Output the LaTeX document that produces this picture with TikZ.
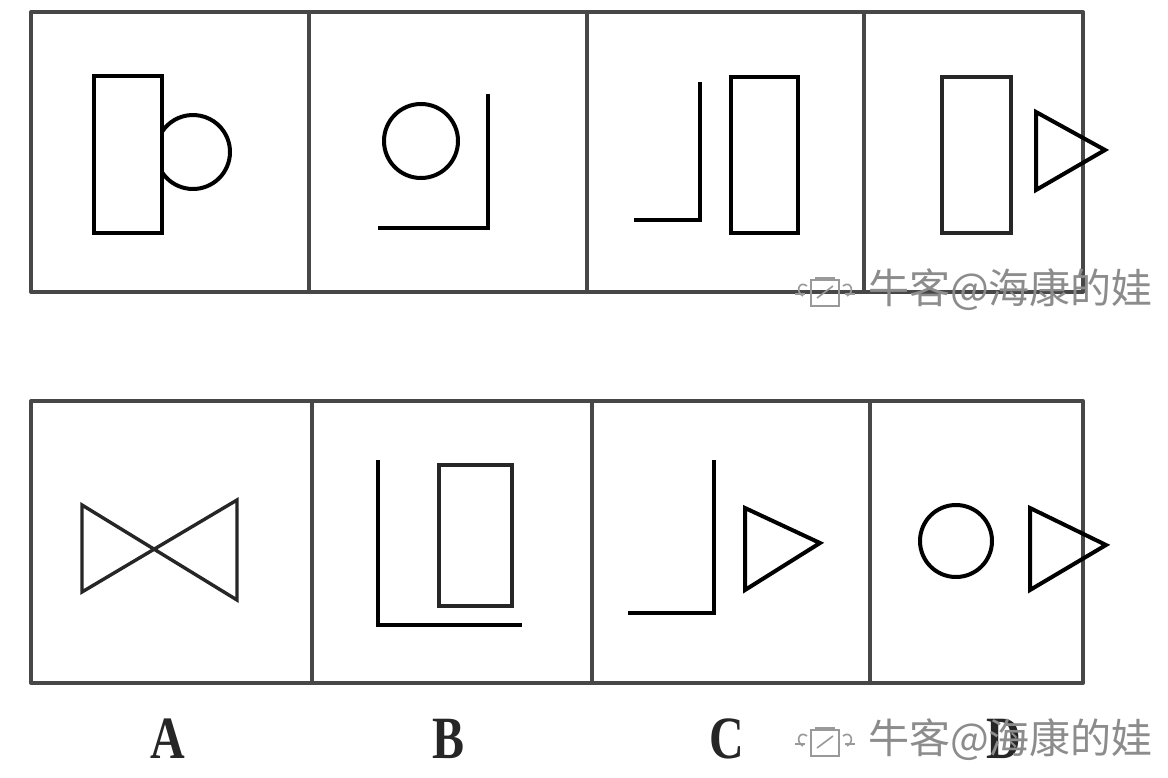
\documentclass[tikz,border=0pt]{standalone}
\usepackage{fontspec}
\setmainfont{Liberation Serif}
\newfontfamily\cjkwm{Noto Sans CJK SC}
\begin{document}
\begin{tikzpicture}[x=1pt,y=-1pt,
  frame/.style={draw=black!72, line width=4pt, line cap=round, line join=round},
  fig/.style={draw=black, line width=4pt, line join=miter},
  figthin/.style={draw=black!85, line width=3.4pt, line join=miter},
  lbl/.style={font=\bfseries\fontsize{60}{60}\selectfont, text=black!85, inner sep=0pt, xscale=0.8},
  wm/.style={font=\cjkwm\fontsize{41}{41}\selectfont, text=black!45, inner sep=0pt, anchor=west}]
\useasboundingbox[fill=white] (0,0) rectangle (1168,778);
% ---------------- top row frame
\draw[frame] (31,12) rectangle (1083,292);
\draw[frame] (309,12) -- (309,292);
\draw[frame] (587,12) -- (587,292);
\draw[frame] (864,12) -- (864,292);
% panel 1: rectangle + circle
\draw[fig] (94,76) rectangle (162,233);
\draw[fig] (193,152) ++(146.9:37) arc[start angle=146.9, end angle=-146.9, radius=37];
% panel 2: circle + L
\draw[fig] (421,141) circle[radius=37];
\draw[fig] (488,94) -- (488,228) -- (378,228);
% panel 3: L + rectangle
\draw[fig] (700,82) -- (700,220) -- (634,220);
\draw[fig] (731,77) rectangle (798,233);
% panel 4: rectangle + triangle
\draw[figthin] (942,77) rectangle (1011,233);
\draw[fig] (1036,112) -- (1105,150) -- (1036,190) -- cycle;
% ---------------- bottom row frame
\draw[frame] (31,401) rectangle (1083,683);
\draw[frame] (312,401) -- (312,683);
\draw[frame] (592,401) -- (592,683);
\draw[frame] (870,401) -- (870,683);
% A: bow tie
\draw[figthin] (82,505) -- (237,600) -- (237,500) -- (82,592) -- cycle;
% B: L + rectangle
\draw[fig] (378,460) -- (378,625) -- (522,625);
\draw[figthin] (439,465) rectangle (512,606);
% C: L + triangle
\draw[fig] (714,460) -- (714,613) -- (628,613);
\draw[fig] (745,508) -- (820,543) -- (745,590) -- cycle;
% D: circle + triangle
\draw[fig] (956,541) circle[radius=36];
\draw[fig] (1030,508) -- (1106,545) -- (1030,590) -- cycle;
% ---------------- labels
\node[lbl] (la) at (168,739) {A};
\node[lbl] (lb) at (449,739) {B};
\node[lbl] (lc) at (727,739) {C};
\node[lbl] (ld) at (1004,739) {D};
% ---------------- watermarks
\node[wm] (w1) at (868,290) {牛客@海康的娃};
\node[wm] (w2) at (868,740) {牛客@海康的娃};
\foreach \yy in {290,740}{
  \begin{scope}[shift={(825,\yy)}, draw=black!40, line width=1.6pt]
    \draw (-14,-10) rectangle (14,16);
    \draw (-10,-12) -- (10,-12);
    \draw (-8,8) -- (8,-4);
    \draw (-18,-4) .. controls (-26,-10) and (-30,2) .. (-22,6);
    \draw (18,-4) .. controls (26,-10) and (30,2) .. (22,6);
    \draw (-30,4) -- (-20,4);
    \draw (20,4) -- (30,4);
  \end{scope}
}
\end{tikzpicture}
\end{document}
